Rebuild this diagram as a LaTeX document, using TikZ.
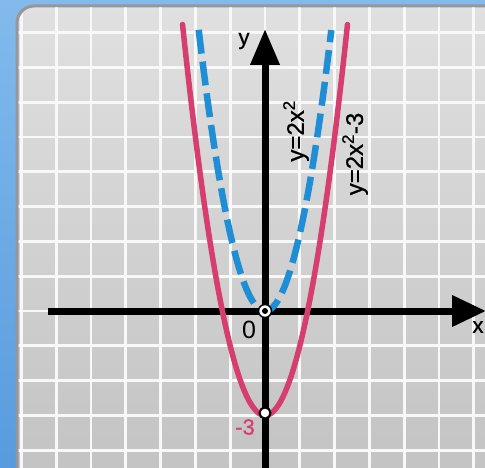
\documentclass[tikz,border=0pt]{standalone}
\usepackage{fontspec}
\setmainfont{Liberation Sans}
\usetikzlibrary{arrows.meta}
\definecolor{bgblue}{RGB}{88,155,222}
\definecolor{bgbluelight}{RGB}{130,186,236}
\definecolor{panelTop}{RGB}{224,224,224}
\definecolor{panelBot}{RGB}{194,194,194}
\definecolor{panelEdge}{RGB}{150,150,155}
\definecolor{gridc}{RGB}{248,248,248}
\definecolor{curvered}{RGB}{214,62,112}
\definecolor{curveblue}{RGB}{32,142,212}
\tikzset{
  gridline/.style={draw=gridc, line width=2.8bp},
  axisline/.style={draw=black, line width=7bp},
  redcurve/.style={draw=curvered, line width=5.5bp, line cap=round},
  bluecurve/.style={draw=curveblue, line width=6.5bp, dash pattern=on 24bp off 8bp},
  lbl/.style={font=\fontsize{22bp}{26bp}\selectfont\addfontfeature{FakeBold=0.8}, inner sep=0pt},
  eqlbl/.style={font=\fontsize{24bp}{28bp}\selectfont\addfontfeature{FakeBold=0.8}, inner sep=0pt, rotate=90},
}
\begin{document}
\begin{tikzpicture}[x=1bp,y=-1bp]
\useasboundingbox (0,0) rectangle (485,468);
% background
\shade[top color=bgbluelight, bottom color=bgblue] (0,0) rectangle (485,468);
% panel
\path[rounded corners=17bp, top color=panelTop, bottom color=panelBot, draw=panelEdge, line width=3bp]
  (17,6) rectangle (520,490);
\begin{scope}
  \clip[rounded corners=17bp] (18.5,7.5) rectangle (520,490);
  \foreach \k in {-7,...,6} {
    \draw[gridline] ({265+34.8*\k},0) -- ({265+34.8*\k},470);
  }
  \foreach \k in {-8,...,5} {
    \draw[gridline] (0,{311+34.8*\k}) -- (485,{311+34.8*\k});
  }
\end{scope}
% axes
\coordinate (xs) at (48,311);
\coordinate (xe) at (486,311);
\coordinate (ys) at (265,472);
\coordinate (ye) at (265,29);
\draw[axisline, -{Triangle[length=34bp,width=30bp]}] (xs) -- (xe);
\draw[axisline, -{Triangle[length=36bp,width=28bp]}] (ys) -- (ye);
% curves
\draw[redcurve] plot[domain=-2.37:2.37, samples=80, smooth] ({265+34.8*\x},{311-34.8*(2*\x*\x-3)});
\draw[bluecurve] plot[domain=-2.01:2.01, samples=80, smooth] ({265+33*\x},{311-34.8*(2*\x*\x)});
% points
\node[circle, fill=white, draw=black, line width=1.5bp, minimum size=13bp, inner sep=0pt] (O) at (265,311) {};
\node[circle, fill=black, minimum size=6bp, inner sep=0pt] (Oc) at (265,311) {};
\node[circle, fill=white, draw=black, line width=2bp, minimum size=11bp, inner sep=0pt] (V) at (265,413) {};
% labels
\node[lbl] (ylab) at (244,41) {y};
\node[lbl] (xlab) at (478,327) {x};
\node[lbl, font=\fontsize{25bp}{29bp}\selectfont] (zero) at (249,330) {0};
\node[lbl, text=curvered] (m3) at (245,427) {-3};
\node[eqlbl] (eq1) at (296,131) {y=2x\textsuperscript{2}};
\node[eqlbl] (eq2) at (355,154) {y=2x\textsuperscript{2}-3};
\end{tikzpicture}
\end{document}
